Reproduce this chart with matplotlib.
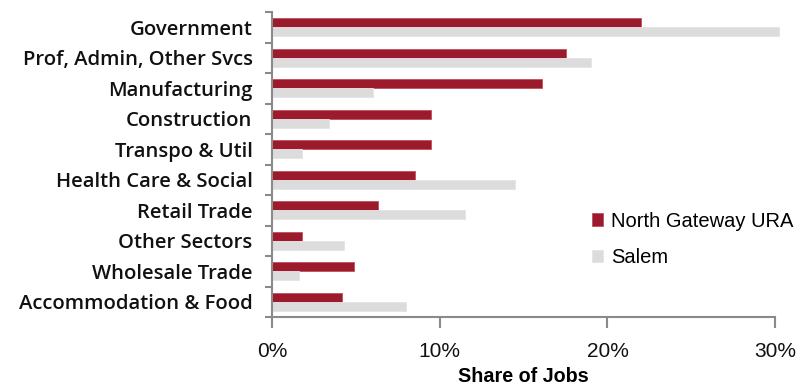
import matplotlib.pyplot as plt
import numpy as np

categories = ['Government', 'Prof, Admin, Other Svcs', 'Manufacturing', 'Construction',
              'Transpo & Util', 'Health Care & Social', 'Retail Trade', 'Other Sectors',
              'Wholesale Trade', 'Accommodation & Food']
north_gateway = [22.0, 17.5, 16.1, 9.5, 9.5, 8.5, 6.3, 1.8, 4.9, 4.2]
salem = [30.2, 19.0, 6.0, 3.4, 1.8, 14.5, 11.5, 4.3, 1.6, 8.0]
x_ticks = [0, 10, 20, 30]
x_tick_labels = ['0%', '10%', '20%', '30%']

RED = '#9b1a2b'
GREY = '#dcdcdc'
AXIS = '#8a8a8a'

fig = plt.figure(figsize=(8, 3.89), dpi=100, facecolor='w')
ax = fig.add_axes([0.34, 0.185, 0.629, 0.784])

y = np.arange(len(categories))
h = 0.3
ax.barh(y - h / 2, north_gateway, height=h, color=RED, edgecolor='#c0505e', linewidth=0.6,
        label='North Gateway URA', clip_on=False)
ax.barh(y + h / 2, salem, height=h, color=GREY, edgecolor='#e4e4e4', linewidth=0.6,
        label='Salem', clip_on=False)

ax.set_xlim(0, 30)
ax.set_ylim(len(categories) - 0.5, -0.5)

ax.set_yticks(y)
ax.set_yticklabels(categories, fontsize=14.6, fontfamily='Open Sans', fontweight='semibold',
                   color='#111111')
ax.tick_params(axis='y', which='major', length=0, pad=14)
ax.set_yticks(np.arange(-0.5, len(categories), 1), minor=True)
ax.tick_params(axis='y', which='minor', length=5, width=1.5, color=AXIS)

ax.set_xticks(x_ticks)
ax.set_xticklabels(x_tick_labels, fontsize=15, fontfamily='Liberation Sans', color='#111111')
ax.tick_params(axis='x', length=8, width=1.5, color=AXIS, pad=10)
ax.set_xlabel('Share of Jobs', fontsize=14.2, fontfamily='Liberation Sans', fontweight='bold',
              labelpad=4)

for s in ['top', 'right']:
    ax.spines[s].set_visible(False)
for s in ['left', 'bottom']:
    ax.spines[s].set_color(AXIS)
    ax.spines[s].set_linewidth(1.5)

ax.legend(loc='upper left', bbox_to_anchor=(0.6, 0.405), frameon=False,
          prop={'family': 'Liberation Sans', 'size': 14.5}, handlelength=0.55, handleheight=0.55,
          handletextpad=0.4, labelspacing=0.85)

fig.savefig('out.png', dpi=100)
